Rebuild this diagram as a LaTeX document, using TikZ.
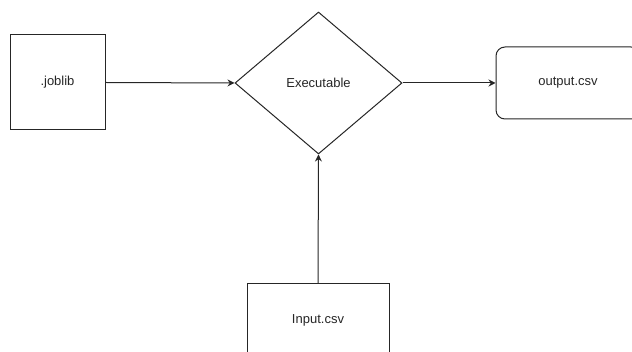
\documentclass[tikz,border=0pt]{standalone}
\usepackage{fontspec}
\setmainfont{Liberation Sans}
\usetikzlibrary{shapes.geometric,arrows.meta}
\begin{document}
\begin{tikzpicture}[x=1pt,y=-1pt,
  every node/.style={font=\fontsize{13}{15}\selectfont, text=black!85},
  box/.style={draw=black!85, line width=1pt, inner sep=0pt, fill=white},
  decision/.style={diamond, draw=black!85, line width=1pt, inner sep=0pt, fill=white,
    minimum width=167pt, minimum height=142pt, shape aspect=1.176},
  flow/.style={draw=black!85, line width=1pt, -{Stealth[length=7pt,width=7pt]}}]
  \useasboundingbox (0,0) rectangle (632,352);
  \clip (0,0) rectangle (632,352);
  \node[box, minimum width=95pt, minimum height=95pt] (joblib) at (57.5,82.5) {.joblib};
  \node[decision] (exec) at (318.5,83) {Executable};
  \node[box, rounded corners=9pt, minimum width=144pt, minimum height=72pt] (out) at (568,83) {output.csv};
  \node[box, minimum width=142pt, minimum height=72pt] (in) at (318,320) {Input.csv};
  \draw[flow] (joblib.east) -- (exec.west);
  \draw[flow] (exec.east) -- (out.west);
  \draw[flow] (in.north) -- (exec.south);
\end{tikzpicture}
\end{document}
